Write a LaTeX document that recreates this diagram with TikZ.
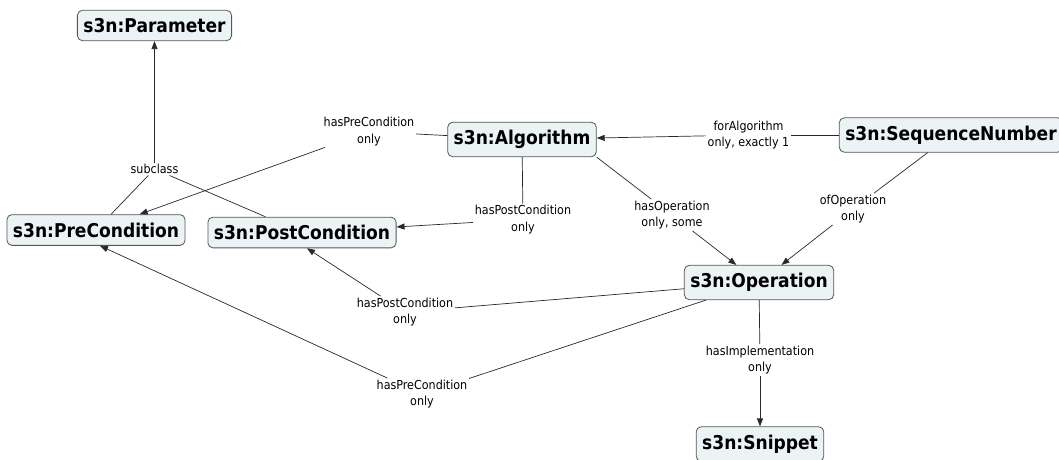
\documentclass[tikz,border=0pt]{standalone}
\usepackage{fontspec}
\setmainfont{DejaVu Sans}
\newfontfamily\labfont{DejaVu Sans Condensed}
\newfontfamily\boxfont{DejaVu Sans Condensed Bold}
\usetikzlibrary{arrows.meta}

\definecolor{boxfill}{RGB}{236,243,245}
\definecolor{boxline}{RGB}{85,85,85}
\definecolor{linkline}{RGB}{40,40,40}

\begin{document}
\begin{tikzpicture}[
  x=1pt, y=-1pt,
  concept/.style={draw=boxline, fill=boxfill, rounded corners=5pt, line width=0.8pt,
    font=\boxfont\fontsize{19}{22}\selectfont, inner xsep=6pt, inner ysep=8pt},
  linklab/.style={font=\labfont\fontsize{12.4}{16.5}\selectfont, align=center, inner sep=1.5pt},
  link/.style={draw=linkline, line width=0.7pt},
  linkarrow/.style={link, -{Triangle[length=8pt,width=6pt]}}
]
  \useasboundingbox (0,0) rectangle (1059,459);

  % concepts
  \node[concept] (Param) at (154.5,25.5) {s3n:Parameter};
  \node[concept] (Pre)   at (96,230)    {s3n:PreCondition};
  \node[concept] (Post)  at (302,232.5) {s3n:PostCondition};
  \node[concept] (Alg)   at (522,139.5) {s3n:Algorithm};
  \node[concept] (Seq)   at (951,135)   {s3n:SequenceNumber};
  \node[concept] (Op)    at (759,282.5) {s3n:Operation};
  \node[concept] (Snip)  at (760,444)   {s3n:Snippet};

  % link labels
  \node[linklab] (lSub)   at (154.5,169) {subclass};
  \node[linklab] (lPreA)  at (369,131.5) {hasPreCondition\\only};
  \node[linklab] (lPostA) at (523,219.5) {hasPostCondition\\only};
  \node[linklab] (lFor)   at (748.5,135) {forAlgorithm\\only, exactly 1};
  \node[linklab] (lOpA)   at (672,215)   {hasOperation\\only, some};
  \node[linklab] (lOfOp)  at (853,209)   {ofOperation\\only};
  \node[linklab] (lPostO) at (405,312)   {hasPostCondition\\only};
  \node[linklab] (lPreO)  at (422,394)   {hasPreCondition\\only};
  \node[linklab] (lImpl)  at (760,360)   {hasImplementation\\only};

  % subclass
  \draw[link] (Pre) -- (lSub);
  \draw[link] (Post) -- (lSub);
  \draw[linkarrow] (lSub) -- (Param);

  % algorithm links
  \draw[link] (Alg) -- (lPreA);
  \draw[linkarrow] (lPreA) -- (Pre);
  \draw[link] (Alg) -- (lPostA);
  \draw[linkarrow] (lPostA) -- (Post);
  \draw[link] (Alg.south east) -- (lOpA);
  \draw[linkarrow] (lOpA) -- (Op);

  % sequence number links
  \draw[link] (Seq) -- (lFor);
  \draw[linkarrow] (lFor) -- (Alg);
  \draw[link] (Seq) -- (lOfOp);
  \draw[linkarrow] (lOfOp) -- (Op);

  % operation links
  \draw[link] (Op) -- (lPostO);
  \draw[linkarrow] (lPostO) -- ([xshift=5pt]Post.south);
  \draw[link] (Op) -- (lPreO);
  \draw[linkarrow] (lPreO) -- ([xshift=4pt]Pre.south);
  \draw[link] (Op) -- (lImpl);
  \draw[linkarrow] (lImpl) -- (Snip);
\end{tikzpicture}
\end{document}
